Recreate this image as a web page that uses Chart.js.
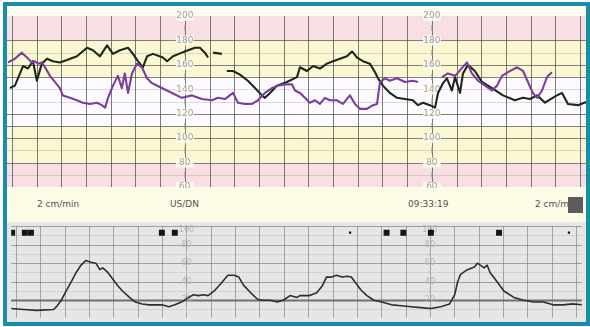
<!DOCTYPE html>
<html>
<head>
<meta charset="utf-8">
<script src="https://cdn.jsdelivr.net/npm/chart.js@4.4.0/dist/chart.umd.min.js"></script>
<style>
  body { margin: 0; background: #fff; font-family: "DejaVu Sans", sans-serif; }
  #frame { position: absolute; left: 3px; top: 2px; width: 579px; height: 316px; border: 4px solid #1b8dab; background: #fdfdf5; overflow: hidden; }
  #fhr { position: absolute; left: 0; top: 0; }
  #strip { position: absolute; left: 0; top: 182px; width: 579px; height: 34px; background: #fbfbe6; }
  #toco { position: absolute; left: 0; top: 216px; }
  .lbl { position: absolute; top: 11px; font-size: 9px; color: #555; white-space: nowrap; }
  #speedBox { position: absolute; left: 561px; top: 9px; width: 15px; height: 16px; background: #5c5c5c; }
</style>
</head>
<body>
<div id="frame">
  <canvas id="fhr" width="579" height="182"></canvas>
  <div id="strip">
    <span class="lbl" style="left:30px">2 cm/min</span>
    <span class="lbl" style="left:163px">US/DN</span>
    <span class="lbl" style="left:401px">09:33:19</span>
    <span class="lbl" style="left:528px">2 cm/min</span>
    <div id="speedBox"></div>
  </div>
  <canvas id="toco" width="579" height="100"></canvas>
</div>
<script>
// time in minutes (one grid square = 1 min)
const blackT = [-0.08,0.12,0.45,0.65,0.85,1.01,1.21,1.42,1.66,1.94,2.23,2.63,3.04,3.28,3.56,3.85,4.09,4.37,4.70,4.90,5.10,5.30,5.47,5.71,6.11,6.28,6.52,6.88,7.13,7.41,7.61,7.81,7.94,8.04,8.14,8.50,8.60,8.70,8.95,9.23,9.55,9.84,10.12,10.24,10.45,10.73,11.13,11.54,11.66,11.94,12.19,12.47,12.75,13.00,13.28,13.56,13.77,13.97,14.21,14.49,14.70,14.82,15.02,15.30,15.59,15.91,16.23,16.44,16.64,16.92,17.13,17.25,17.45,17.61,17.81,17.94,18.14,18.26,18.46,18.74,19.03,19.43,19.88,20.36,20.69,20.97,21.26,21.58,22.06,22.27,22.51,22.91,23.32];
const blackBpm = [141,143,159,157,163,147,161,165,163,162,164,167,174,172,167,176,169,172,174,169,163,158,167,169,166,163,167,170,172,174,174,170,166,null,170,169,null,155,155,152,147,141,135,133,137,143,146,150,158,155,159,157,161,163,165,167,171,166,163,161,154,149,143,137,133,132,131,127,129,127,125,137,145,149,139,150,137,153,160,155,146,141,135,131,133,132,135,129,135,137,128,127,130];

const purpleT = [-0.16,0.12,0.40,0.61,0.81,0.93,1.05,1.21,1.34,1.54,1.74,1.94,2.06,2.35,2.63,2.87,3.16,3.44,3.64,3.77,3.89,4.09,4.29,4.45,4.57,4.70,4.86,5.06,5.26,5.47,5.67,6.07,6.48,6.88,7.29,7.69,8.10,8.34,8.62,8.95,9.15,9.43,9.72,9.96,10.24,10.53,10.77,11.05,11.34,11.46,11.66,11.86,12.06,12.27,12.47,12.67,12.87,13.16,13.40,13.68,13.89,14.09,14.37,14.62,14.78,14.90,15.10,15.30,15.59,15.91,16.23,16.44,16.90,17.41,17.65,17.94,18.42,18.62,18.87,19.15,19.43,19.64,19.84,20.08,20.45,20.69,20.89,21.09,21.26,21.46,21.66,21.86];
const purpleBpm = [162,165,170,166,162,163,161,162,158,151,146,141,135,133,131,129,128,129,127,125,133,143,151,141,153,137,153,161,158,149,145,141,137,133,135,132,131,133,132,137,129,128,128,131,137,141,143,144,144,139,137,133,129,131,128,133,131,131,128,135,128,124,124,127,128,146,149,147,149,146,147,146,null,150,153,151,162,153,147,143,139,143,151,154,158,155,146,137,133,139,150,154];

const tocoT = [-0.20,0.32,0.85,1.54,1.66,1.86,2.06,2.27,2.47,2.67,2.87,3.08,3.28,3.44,3.56,3.77,3.97,4.17,4.37,4.66,4.90,5.18,5.47,5.71,5.99,6.28,6.52,6.80,7.09,7.29,7.49,7.69,7.89,8.14,8.42,8.70,8.95,9.15,9.35,9.64,9.92,10.16,10.45,10.73,10.97,11.26,11.54,11.66,12.06,12.35,12.59,12.75,12.96,13.16,13.40,13.60,13.77,13.97,14.17,14.41,14.70,15.02,15.43,15.83,16.23,16.64,17.04,17.45,17.81,18.02,18.14,18.26,18.54,18.83,18.95,19.23,19.35,19.47,19.76,20.04,20.45,20.85,21.26,21.66,22.06,22.47,22.87,23.28];
const tocoVal = [11,10,9,10,13,20,30,40,50,58,63,61,60,53,55,50,43,36,30,23,18,16,15,15,15,13,15,18,23,26,25,26,25,30,38,47,47,45,36,28,21,20,20,18,20,25,23,25,25,28,36,45,45,47,45,46,45,38,31,25,20,18,15,14,13,12,11,13,16,26,40,48,53,56,60,55,58,50,40,30,23,20,18,18,15,15,16,15];

// fetal movement marks
const markT = [-0.16,0.36,0.61,5.99,6.52,15.22,15.91,17.04,19.84];
const smallMarkT = [13.72,22.71];
const markLevel = 93;

const fhrTicks = [200,180,160,140,120,100,80,60];
const fhrLines = [180,170,160,150,140,130,120,110,100,90,80,70];
const fhrStrongLines = [180,160,150,120,110,100,80];
const bandLimits = [60,80,110,150,180,200];
const bandColors = ['#f8dfe4','#fbf7d2','#fdfbff','#fbf7d2','#f8dfe4'];
const tocoTicks = [100,80,60,40,20];
const labelColumns = [7,17];
const xMin = -0.2, xMax = 23.24;

function pts(t, v) { return t.map((x, i) => ({x: x, y: v[i]})); }

function vGrid(ctx, a, x, color) {
  ctx.strokeStyle = color;
  ctx.lineWidth = 1;
  for (let t = Math.ceil(xMin); t <= xMax; t++) {
    const px = Math.round(x.getPixelForValue(t)) + 0.5;
    ctx.beginPath(); ctx.moveTo(px, a.top); ctx.lineTo(px, a.bottom); ctx.stroke();
  }
}

const fhrPaper = {
  id: 'fhrPaper',
  beforeDatasetsDraw(chart) {
    const {ctx, chartArea: a, scales: {x, y}} = chart;
    ctx.save();
    ctx.fillStyle = '#fdfdf4';
    ctx.fillRect(0, 0, chart.width, a.top);
    for (let i = 0; i < bandColors.length; i++) {
      const y0 = y.getPixelForValue(bandLimits[i]), y1 = y.getPixelForValue(bandLimits[i + 1]);
      ctx.fillStyle = bandColors[i];
      ctx.fillRect(a.left, y1, a.right - a.left, y0 - y1);
    }
    fhrLines.forEach(v => {
      const py = Math.round(y.getPixelForValue(v)) + 0.5;
      ctx.strokeStyle = fhrStrongLines.includes(v) ? 'rgba(90,90,90,0.75)' : 'rgba(120,120,120,0.25)';
      ctx.lineWidth = 1;
      ctx.beginPath(); ctx.moveTo(a.left, py); ctx.lineTo(a.right, py); ctx.stroke();
    });
    vGrid(ctx, a, x, 'rgba(80,80,80,0.75)');
    ctx.font = '9px "DejaVu Sans"';
    ctx.textAlign = 'center';
    ctx.textBaseline = 'middle';
    labelColumns.forEach(t => {
      const px = x.getPixelForValue(t);
      fhrTicks.forEach(v => {
        const py = y.getPixelForValue(v);
        ctx.fillStyle = 'rgba(253,253,240,0.85)';
        ctx.fillRect(px - 9, py - 5, 18, 10);
        ctx.fillStyle = '#a0a0a0';
        ctx.fillText(String(v), px, py);
        if (v > 60) {
          const pm = y.getPixelForValue(v - 10);
          ctx.strokeStyle = '#a0a0a0';
          ctx.beginPath(); ctx.moveTo(px, pm - 3); ctx.lineTo(px, pm + 3); ctx.stroke();
        }
      });
    });
    ctx.restore();
  }
};

const tocoPaper = {
  id: 'tocoPaper',
  beforeDatasetsDraw(chart) {
    const {ctx, chartArea: a, scales: {x, y}} = chart;
    ctx.save();
    ctx.fillStyle = '#e6e6e6';
    ctx.fillRect(0, 0, chart.width, chart.height);
    for (let v = 10; v <= 90; v += 20) {
      const py = Math.round(y.getPixelForValue(v)) + 0.5;
      ctx.strokeStyle = 'rgba(150,150,150,0.25)';
      ctx.beginPath(); ctx.moveTo(a.left, py); ctx.lineTo(a.right, py); ctx.stroke();
    }
    tocoTicks.forEach(v => {
      const py = Math.round(y.getPixelForValue(v)) + 0.5;
      ctx.strokeStyle = v === 20 ? 'rgba(90,90,90,0.85)' : 'rgba(110,110,110,0.6)';
      ctx.lineWidth = v === 20 ? 2 : 1;
      ctx.beginPath(); ctx.moveTo(a.left, py); ctx.lineTo(a.right, py); ctx.stroke();
    });
    vGrid(ctx, a, x, 'rgba(110,110,110,0.55)');
    ctx.font = '8px "DejaVu Sans"';
    ctx.textAlign = 'center';
    ctx.textBaseline = 'middle';
    labelColumns.forEach(t => {
      const px = x.getPixelForValue(t);
      tocoTicks.forEach(v => {
        const py = y.getPixelForValue(v) + (v === 100 ? 4 : 0);
        ctx.fillStyle = '#b4b4b4';
        ctx.fillText(String(v), px, py);
        ctx.strokeStyle = '#c0c0c0';
        const pm = y.getPixelForValue(v - 10);
        ctx.beginPath(); ctx.moveTo(px, pm - 2); ctx.lineTo(px, pm + 2); ctx.stroke();
      });
    });
    ctx.restore();
  }
};

const baseOpts = {
  responsive: false,
  animation: false,
  events: [],
  plugins: { legend: { display: false }, tooltip: { enabled: false } },
  elements: { point: { radius: 0 }, line: { tension: 0, borderJoinStyle: 'round' } }
};

new Chart(document.getElementById('fhr'), {
  type: 'line',
  data: {
    datasets: [
      { data: pts(purpleT, purpleBpm), borderColor: '#7b3e9c', borderWidth: 2.1 },
      { data: pts(blackT, blackBpm), borderColor: '#1d281b', borderWidth: 2.1 }
    ]
  },
  options: Object.assign({}, baseOpts, {
    layout: { padding: { top: 10, bottom: 1, left: 0, right: 0 } },
    scales: {
      x: { type: 'linear', min: xMin, max: xMax, display: false },
      y: { min: 60, max: 200, display: false }
    }
  }),
  plugins: [fhrPaper]
});

new Chart(document.getElementById('toco'), {
  type: 'line',
  data: {
    datasets: [
      { data: pts(tocoT, tocoVal), borderColor: '#2e2e2e', borderWidth: 1.6 },
      { data: markT.map(t => ({x: t, y: markLevel})), showLine: false, pointStyle: 'rect',
        pointRadius: 4.2, backgroundColor: '#151515', borderWidth: 0 },
      { data: smallMarkT.map(t => ({x: t, y: markLevel})), showLine: false, pointStyle: 'rect',
        pointRadius: 1.6, backgroundColor: '#151515', borderWidth: 0 }
    ]
  },
  options: Object.assign({}, baseOpts, {
    layout: { padding: { top: 1, bottom: 0, left: 0, right: 0 } },
    scales: {
      x: { type: 'linear', min: xMin, max: xMax, display: false },
      y: { min: 1, max: 100, display: false }
    }
  }),
  plugins: [tocoPaper]
});
</script>
</body>
</html>
